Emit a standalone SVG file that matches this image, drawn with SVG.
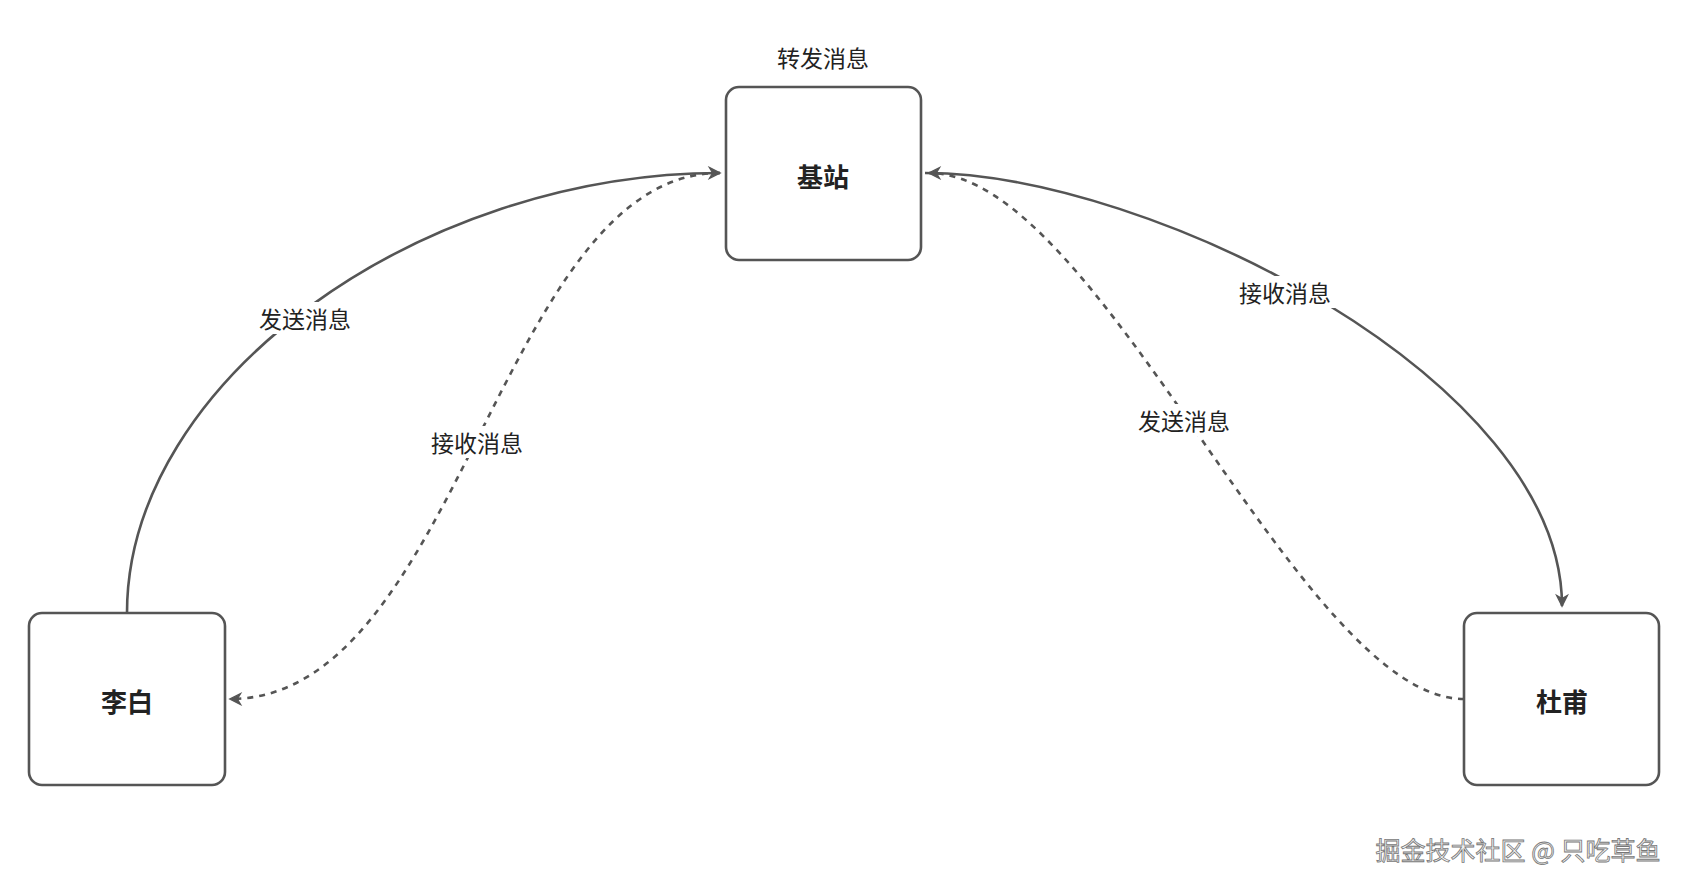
<svg xmlns="http://www.w3.org/2000/svg" width="1686" height="887" viewBox="0 0 1686 887">
<style>
.box{fill:#fff;stroke:#555;stroke-width:2.6}
.e{fill:none;stroke:#555;stroke-width:2.6}
.d{stroke-dasharray:6 6}
.t{font-family:"Noto Sans CJK SC","Liberation Sans",sans-serif;font-size:23px;fill:#222;text-anchor:middle;dominant-baseline:central}
.b{font-weight:bold;font-size:26px}
.bg{fill:#fff}
</style>
<defs>
<marker id="a" viewBox="0 0 10 10" refX="9" refY="5" markerWidth="7" markerHeight="7" markerUnits="userSpaceOnUse" orient="auto" style="overflow:visible">
<path d="M0,0 L10,5 L0,10 L3,5 Z" fill="#555" stroke="#555" transform="scale(1.6) translate(-4,-1.9)"/>
</marker>
</defs>
<g id="edges">
<path class="e" d="M127,613 C127,380 420,173 720,173" marker-end="url(#a)"/>
<path class="e d" d="M720,173 C500,173 460,699 230,699" marker-end="url(#a)"/>
<path class="e" d="M925,173 C1150,173 1562,380 1562,606" marker-end="url(#a)"/>
<path class="e d" d="M1464,699 C1300,699 1100,173 929,173" marker-end="url(#a)"/>
<rect class="bg" x="254" y="302" width="102" height="32"/>
<text class="t" x="305" y="318">发送消息</text>
<rect class="bg" x="426" y="426" width="102" height="32"/>
<text class="t" x="477" y="442">接收消息</text>
<rect class="bg" x="1234" y="276" width="102" height="32"/>
<text class="t" x="1285" y="292">接收消息</text>
<rect class="bg" x="1133" y="404" width="102" height="32"/>
<text class="t" x="1184" y="420">发送消息</text>
</g>
<g id="jizhan">
<rect class="box" x="726" y="87" width="195" height="173" rx="13"/>
<text class="t b" x="823" y="175">基站</text>
<text class="t" x="823" y="57">转发消息</text>
</g>
<g id="libai">
<rect class="box" x="29" y="613" width="196" height="172" rx="13"/>
<text class="t b" x="127" y="700">李白</text>
</g>
<g id="dufu">
<rect class="box" x="1464" y="613" width="195" height="172" rx="13"/>
<text class="t b" x="1562" y="700">杜甫</text>
</g>
<text x="1518" y="849" style="font-family:'Noto Sans CJK SC',sans-serif;font-size:25px;fill:#f2f2f2;stroke:#777;stroke-width:0.8;text-anchor:middle;dominant-baseline:central">掘金技术社区 @ 只吃草鱼</text>
</svg>
